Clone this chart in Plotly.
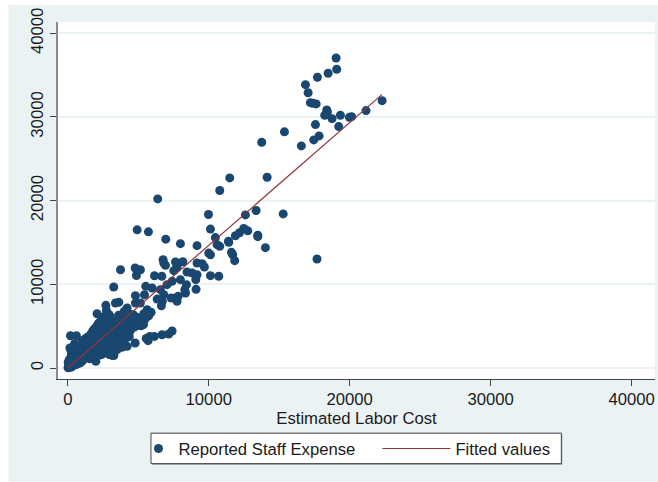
import plotly.graph_objects as go

# Scattered, individually legible points
sparse_x = [19035,19080,18470,17710,16860,17050,17210,17400,17620,18370,18420,18230,18750,19340,19980,20140,21160,22300,17570,19220,17830,17450,16570,15370,
            13760,14140,11490,10780,6380,15280,13360,12600,9980,10120,4920,5720,12480,12770,12180,11890,13480,13480,6950,10470,11400,
            7990,9170,10590,10780,11420,14020,17680,10120,10000,11610,11700,11840,6760,6810,6930,7640,8160,7750,7520,3740,4780,5150,4870,6150,6670,8460,8820,9170,9530,9690,9170,9080,10120,10710,7990,7400,8420,8300,8350,9100,3260,5530,5980,7040,6570,4800,5440,6810,6340,6640,6710,7330,7750,7640,7830,
            3380,3620,2700,2740,2080,4210,4800,5150,5630,5910,5390,5740,
            7400,7160,6690,6150,5820,5560,5700,4780,4210,3850,3500,3140,1990]
sparse_y = [37050,35700,35220,34750,33860,32900,31710,31640,31560,30840,30600,30200,29800,30200,29960,30040,30760,31950,29090,28850,27740,27260,26540,28220,
            26980,22800,22720,21210,20210,18420,18820,18300,18340,16600,16510,16270,16670,16390,16170,15800,15880,15700,15400,15590,15160,
            14860,14620,14740,14540,15020,14380,13030,13530,13730,13820,13530,12830,12950,12550,12270,12670,12700,12100,11630,11740,11950,11740,11060,11020,10960,11470,11350,12550,12470,12070,11160,10560,11040,10960,10560,10360,9960,9360,8960,9400,9680,9760,9560,9960,9360,8650,8760,8760,8240,7430,7970,8370,7970,8370,8570,
            7770,7850,7490,6890,6490,7170,7770,7770,6970,6650,6490,6250,
            4420,4060,3980,3780,3780,3540,3270,2990,2590,2510,2190,1510,800]

# Dense mass along the diagonal
dense_x = [20,60,100,150,50,120,30,200,250,300,350,90,180,260,400,450,500,550,420,300,220,600,650,700,750,800,850,900,500,350,150,280,200,350,150,190,610,380,500,600,700,800,950,1000,
           1040,1120,1210,1280,1350,1420,1500,1530,1580,1640,1700,1760,1820,1880,1950,2010,2060,2120,2180,2240,2310,2370,2430,2500,2560,2610,2680,2740,2800,2860,2930,3000,
           1050,1180,1260,1390,1470,1560,1650,1730,1810,1900,1980,2050,2140,2220,2290,2380,2460,2530,2620,2690,2770,2840,2920,3010,3080,3150,3220,3290,3360,3430,3500,
           1100,1320,1530,1690,1870,2090,2260,2410,2590,2710,2890,3060,3210,3340,3480,3570,3640,3720,3790,3860,3930,4000,4080,4150,4230,4310,4390,4470,4540,4620,4700,4790,4860,4950,5020,5110,5200,5280,5370,5450,
           3050,3180,3310,3440,3590,3680,3770,3880,3960,4060,4170,4280,4360,4480,4590,4680,4810,4920,5060,5170,5310,5420,5540,
           2950,3120,3270,3390,3550,3690,3840,3990,4120,4260,
           250,420,640,880,1020,1150,1240,1330,1440,1510,1620,1710,1790,1860,1930,2040,2110,2190,2270,2340,2450,2520,2650,2780,2880,2970,3110,3230,3380,3520,3660,3810,
           480,760,970,1080,1230,1370,1490,1600,1750,1840,2000,2150,2300,2420,2570,2720,2850,2990,3160,3300,3460,3610,3750,3910,4040,
           1130,1410,1680,1920,2200,2480,2760,3030,3320,3620,3900,4180,4420]
dense_y = [30,120,60,200,400,500,700,350,120,250,500,900,800,650,300,360,420,650,800,1000,1200,420,500,800,560,620,600,900,1100,1350,1100,1600,2200,2000,2400,3860,3860,2500,1900,1500,1300,1000,850,760,
           3300,3050,3400,3560,3420,3700,3640,3300,3820,4000,4130,4380,4510,4680,4450,4810,5010,5140,5360,5100,5520,5680,5830,6000,5700,6170,6320,6080,6500,5890,6360,6170,
           2100,1100,2700,1450,2300,1100,2850,1500,3100,1600,2500,1800,3300,1900,3600,2100,3850,2250,4100,2400,4400,2550,4700,1800,3050,2350,4900,2700,5200,2850,2270,
           1500,1950,2650,1350,2050,2900,1700,3150,2700,4250,2000,3400,3750,4600,5050,5500,5800,3150,6100,6400,4300,6770,3700,4950,6600,5250,4400,5650,6170,6400,4900,5900,6100,5770,5300,5550,5050,5400,5200,6170,
           2800,1900,3100,3900,2700,4500,3350,5150,3300,5600,3650,4550,3750,4800,5300,4900,5000,5500,5200,5800,5950,5700,6000,
           1600,4100,1500,5500,4000,5000,2500,3500,6200,6500,
           1700,1250,1850,2250,1500,1950,2450,2150,1250,2850,1800,2300,2750,3350,1350,3650,2650,3150,1550,4250,3000,1750,3800,2200,4900,3400,4250,5300,3700,4500,5100,4800,
           2900,1500,2050,3000,1700,2800,3200,1400,2400,3650,3050,2550,4750,1650,3400,5450,2450,3800,5600,4300,2950,6300,4000,3300,5200,
           2600,2350,2200,3300,2950,3950,4550,3600,4650,5700,5400,3850,4400]

reported_x = sparse_x + dense_x
reported_y = sparse_y + dense_y

fitted_x = [0, 22300]
fitted_y = [0, 32700]

x_ticks = [0, 10000, 20000, 30000, 40000]
y_ticks = [0, 10000, 20000, 30000, 40000]
x_title = "Estimated Labor Cost"
series_names = ["Reported Staff Expense", "Fitted values"]

W, H = 658, 482
L, R, T, B = 57.5, 654.7, 22, 379.3
pw, ph = R - L, B - T
px = lambda v: (v - L) / pw
py = lambda v: (B - v) / ph

BG = "#eaf2f3"
NAVY = "#1a476f"
MAROON = "#90353b"
FONT = dict(family="Liberation Sans, Arial, sans-serif", size=16.7, color="#1a1a1a")

fig = go.Figure()
fig.add_trace(go.Scatter(x=reported_x, y=reported_y, mode="markers", name=series_names[0],
                         marker=dict(color=NAVY, size=9, line=dict(width=0)),
                         legend="legend", showlegend=True))
fig.add_trace(go.Scatter(x=fitted_x, y=fitted_y, mode="lines", name=series_names[1],
                         line=dict(color=MAROON, width=1.2),
                         legend="legend2", showlegend=True))

axis_common = dict(showline=True, ticks="outside", ticklen=6, tickwidth=1, tickcolor="#444444",
                   zeroline=False, tickfont=FONT, tickformat="d")
fig.update_xaxes(range=[-695, 41660], tickvals=x_ticks, showgrid=False, linecolor="#444444", linewidth=1,
                 ticklabelstandoff=-1, title=dict(text=x_title, font=FONT, standoff=0), **axis_common)
fig.update_yaxes(range=[-1313, 41350], tickvals=y_ticks, showgrid=True, gridcolor=BG, gridwidth=1.5,
                 linecolor="#8a8a8a", linewidth=2, tickangle=-90, **axis_common)

fig.update_layout(
    width=W, height=H, autosize=False,
    margin=dict(l=L, r=W - R, t=T, b=H - B, pad=0),
    paper_bgcolor="white", plot_bgcolor="white", font=FONT,
    legend=dict(x=px(138), y=py(449), xanchor="left", yanchor="middle", bgcolor="rgba(0,0,0,0)",
                itemwidth=30, font=FONT),
    legend2=dict(x=px(377), y=py(449), xanchor="left", yanchor="middle", bgcolor="rgba(0,0,0,0)",
                 itemwidth=68, font=FONT),
    shapes=[
        dict(type="rect", xref="paper", yref="paper", x0=px(8), x1=px(W), y0=py(H), y1=py(5),
             fillcolor=BG, line=dict(width=0), layer="below"),
        dict(type="rect", xref="paper", yref="paper", x0=0, x1=1, y0=0, y1=1,
             fillcolor="white", line=dict(width=0), layer="below"),
        dict(type="rect", xref="paper", yref="paper", x0=px(151.5), x1=px(562), y0=py(465), y1=py(434.5),
             fillcolor="#9a9a9a", line=dict(width=0), layer="below"),
        dict(type="rect", xref="paper", yref="paper", x0=px(150.5), x1=px(561), y0=py(464), y1=py(433.5),
             fillcolor="white", line=dict(color="#444444", width=1), layer="below"),
    ],
)

fig.write_html("out.html", config=dict(displayModeBar=False),
               post_script="document.body.style.margin='0';document.body.style.overflow='hidden';")
